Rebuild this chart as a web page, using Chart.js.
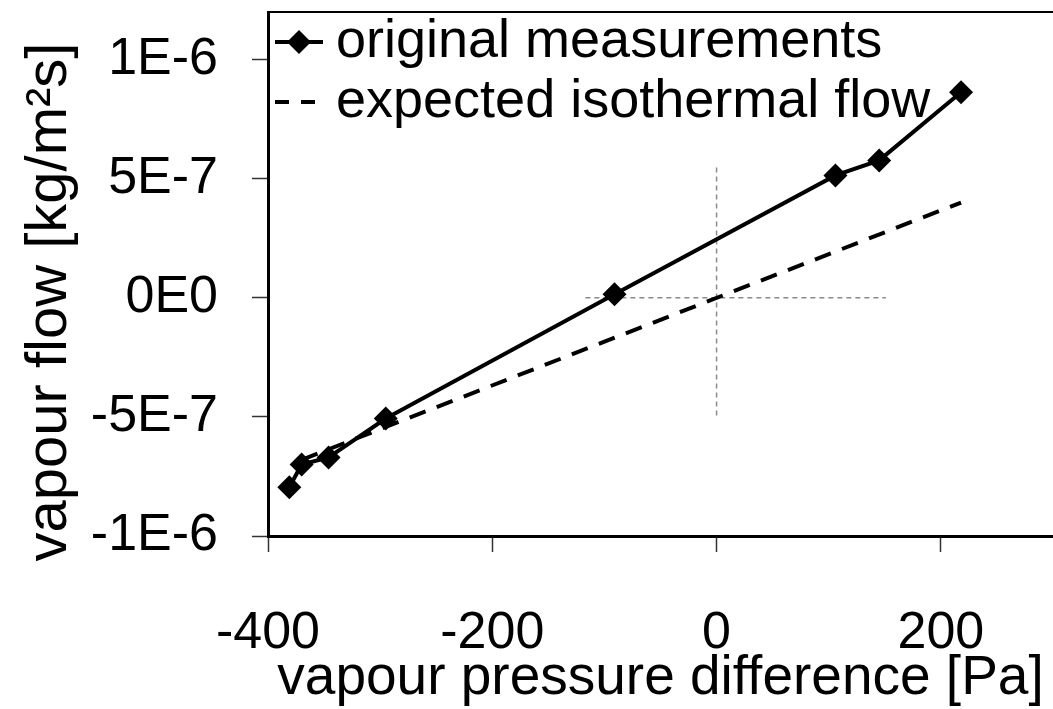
<!DOCTYPE html>
<html>
<head>
<meta charset="utf-8">
<script src="https://cdn.jsdelivr.net/npm/chart.js@4.4.1/dist/chart.umd.min.js"></script>
<style>
  html, body { margin: 0; padding: 0; background: #fff; overflow: hidden; }
  #wrap { width: 1053px; height: 709px; position: relative; }
  canvas { display: block; }
</style>
</head>
<body>
<div id="wrap"><canvas id="myChart"></canvas></div>
<script>
// measured points
const pressureDiff = [-381, -370, -346, -295, -91, 106, 145, 218];
const vapourFlow = [-7.95e-7, -7.0e-7, -6.7e-7, -5.07e-7, 1.5e-8, 5.14e-7, 5.77e-7, 8.63e-7];
// expected isothermal line
const expectedX = [-370, 218];
const expectedY = [-6.8e-7, 4.0e-7];
// grey cross through the origin
const crossVX = [0, 0];
const crossVY = [5.47e-7, -5.05e-7];
const crossHX = [-117, 151];
const crossHY = [0, 0];

const xTicks = [-400, -200, 0, 200];
const xTickLabels = ["-400", "-200", "0", "200"];
const yTicks = [-1e-6, -5e-7, 0, 5e-7, 1e-6];
const yTickLabels = ["-1E-6", "-5E-7", "0E0", "5E-7", "1E-6"];
const seriesNames = ["original measurements", "expected isothermal flow"];
const xTitle = "vapour pressure difference [Pa]";
const yTitle = "vapour flow [kg/m²s]";

const FONT = "Arial, 'Liberation Sans', sans-serif";

const toPoints = (xs, ys) => xs.map((x, i) => ({ x: x, y: ys[i] }));

const extras = {
  id: "extras",
  afterDraw(chart) {
    const { ctx, chartArea } = chart;
    ctx.save();
    // top frame line
    ctx.strokeStyle = "#000";
    ctx.lineWidth = 2;
    ctx.beginPath();
    ctx.moveTo(chartArea.left, chartArea.top);
    ctx.lineTo(chartArea.right, chartArea.top);
    ctx.stroke();

    // legend
    const lx = chartArea.left + 7;
    const row1 = 42, row2 = 102;
    ctx.lineWidth = 4;
    ctx.beginPath();
    ctx.moveTo(lx, row1);
    ctx.lineTo(lx + 48, row1);
    ctx.stroke();
    ctx.fillStyle = "#000";
    ctx.beginPath();
    ctx.moveTo(lx + 24 - 12, row1);
    ctx.lineTo(lx + 24, row1 - 12);
    ctx.lineTo(lx + 24 + 12, row1);
    ctx.lineTo(lx + 24, row1 + 12);
    ctx.closePath();
    ctx.fill();

    ctx.setLineDash([14, 12]);
    ctx.beginPath();
    ctx.moveTo(lx, row2);
    ctx.lineTo(lx + 48, row2);
    ctx.stroke();
    ctx.setLineDash([]);

    ctx.font = "54px " + FONT;
    ctx.textBaseline = "middle";
    ctx.textAlign = "left";
    ctx.fillText(seriesNames[0], lx + 61, row1);
    ctx.fillText(seriesNames[1], lx + 61, row2);

    // y axis title
    ctx.translate(50, 302);
    ctx.rotate(-Math.PI / 2);
    ctx.textAlign = "center";
    ctx.font = "58px " + FONT;
    ctx.fillText(yTitle, 0, 0);
    ctx.restore();
  }
};

new Chart(document.getElementById("myChart"), {
  type: "scatter",
  plugins: [extras],
  data: {
    datasets: [
      {
        label: seriesNames[0],
        data: toPoints(pressureDiff, vapourFlow),
        showLine: true,
        borderColor: "#000",
        backgroundColor: "#000",
        borderWidth: 4,
        pointStyle: "rectRot",
        pointRadius: 12,
        pointBorderWidth: 0,
      },
      {
        label: seriesNames[1],
        data: toPoints(expectedX, expectedY),
        showLine: true,
        borderColor: "#000",
        borderWidth: 4,
        borderDash: [17, 12],
        pointRadius: 0,
      },
      {
        data: toPoints(crossVX, crossVY),
        showLine: true,
        borderColor: "#8a8a8a",
        borderWidth: 1.5,
        borderDash: [5, 4],
        pointRadius: 0,
      },
      {
        data: toPoints(crossHX, crossHY),
        showLine: true,
        borderColor: "#8a8a8a",
        borderWidth: 1.5,
        borderDash: [5, 4],
        pointRadius: 0,
      },
    ],
  },
  options: {
    responsive: true,
    maintainAspectRatio: false,
    animation: false,
    layout: { autoPadding: false, padding: { top: 12, right: 0, left: 0, bottom: 0 } },
    plugins: {
      legend: { display: false },
      tooltip: { enabled: false },
    },
    scales: {
      x: {
        type: "linear",
        min: -400,
        max: 300,
        afterFit: (scale) => {
          scale.height = 173;
          scale.paddingLeft = 0;
          scale.paddingRight = 0;
        },
        afterBuildTicks: (scale) => { scale.ticks = xTicks.map((v) => ({ value: v })); },
        ticks: {
          padding: 50,
          color: "#000",
          font: { family: FONT, size: 52 },
          callback: (val, i) => xTickLabels[i],
        },
        grid: { drawOnChartArea: false, tickLength: 16, tickColor: "#333", tickWidth: 1.5 },
        border: { color: "#000", width: 3 },
        title: {
          display: true,
          text: xTitle,
          color: "#000",
          font: { family: FONT, size: 55 },
          padding: { top: 0, bottom: -3 },
        },
      },
      y: {
        type: "linear",
        min: -1e-6,
        max: 1.2e-6,
        afterFit: (scale) => {
          scale.width = 268;
          scale.paddingTop = 0;
          scale.paddingBottom = 0;
        },
        afterBuildTicks: (scale) => { scale.ticks = yTicks.map((v) => ({ value: v })); },
        ticks: {
          padding: 34,
          color: "#000",
          font: { family: FONT, size: 52 },
          callback: (val, i) => yTickLabels[i],
        },
        grid: { drawOnChartArea: false, tickLength: 16, tickColor: "#333", tickWidth: 1.5 },
        border: { color: "#000", width: 3 },
      },
    },
  },
});
</script>
</body>
</html>
